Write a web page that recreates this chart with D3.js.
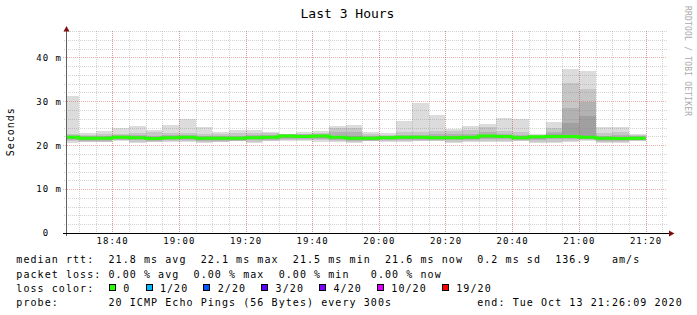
<!DOCTYPE html>
<html lang="en">
<head>
<meta charset="utf-8">
<title>Last 3 Hours</title>
<style>
  body { margin: 0; background: #fff; }
  svg text { font-family: "DejaVu Sans Mono", monospace; white-space: pre; }
</style>
</head>
<body>
<svg id="chart" width="697" height="315"></svg>
<script src="https://cdn.jsdelivr.net/npm/d3@7"></script>
<script>
  // ---- data (ms), one value per 5 minute step ----
  var startTime = "18:26:09", endTime = "21:26:09";
  var yMax = 46;

  var binEnds = ["18:30","18:35","18:40","18:45","18:50","18:55","19:00","19:05","19:10","19:15",
                 "19:20","19:25","19:30","19:35","19:40","19:45","19:50","19:55","20:00","20:05",
                 "20:10","20:15","20:20","20:25","20:30","20:35","20:40","20:45","20:50","20:55",
                 "21:00","21:05","21:10","21:15","21:20"];

  var rttMax = [31.2,22.7,23.2,24.0,24.4,23.5,24.6,26.0,24.1,22.9,23.5,23.5,23.1,22.6,22.9,23.2,24.4,24.6,23.1,22.7,
                25.6,29.5,26.9,23.7,24.4,24.8,26.3,26.0,22.5,25.3,37.4,36.9,24.1,24.1,22.6];
  var rttU1  = [22.6,22.4,22.5,22.6,22.7,22.9,22.7,22.7,22.6,22.5,22.7,22.7,22.7,22.5,22.6,22.7,23.8,23.9,22.6,22.4,
                23.0,23.0,23.3,23.2,23.4,24.1,23.2,23.1,22.3,24.0,34.2,32.9,22.8,23.1,22.4];
  var rttU2  = [22.4,22.2,22.2,22.4,22.3,22.1,22.3,22.4,22.2,22.2,22.2,22.3,22.4,22.5,22.5,22.5,23.1,23.0,22.2,22.2,
                22.4,22.4,22.5,22.5,22.6,23.0,22.6,22.4,22.2,23.0,28.5,29.8,22.2,22.3,22.2];
  var rttU3  = [22.1,21.9,21.9,22.1,22.0,21.8,22.0,22.1,21.9,21.9,21.9,22.0,22.1,22.3,22.3,22.4,22.2,22.0,21.9,22.0,
                22.1,22.2,22.0,22.0,22.2,22.4,22.3,22.0,22.1,22.6,25.0,26.6,21.9,21.9,21.9];
  var rttMed = [21.8,21.6,21.6,21.8,21.7,21.5,21.7,21.8,21.6,21.6,21.6,21.7,21.8,22.1,22.0,22.1,21.8,21.6,21.6,21.7,
                21.8,21.8,21.7,21.7,21.8,22.1,22.0,21.7,21.9,22.0,22.0,21.8,21.6,21.5,21.6];
  var rttL3  = [21.4,21.2,21.2,21.4,21.3,21.1,21.3,21.4,21.2,21.2,21.2,21.3,21.4,21.7,21.6,21.7,21.4,21.2,21.2,21.3,
                21.4,21.4,21.3,21.3,21.4,21.7,21.6,21.3,21.5,21.6,21.6,21.4,21.2,21.1,21.2];
  var rttL2  = [21.2,21.0,21.0,21.2,21.1,20.9,21.1,21.2,21.0,21.0,21.0,21.1,21.2,21.5,21.4,21.5,21.2,21.0,21.0,21.1,
                21.2,21.2,21.1,21.1,21.2,21.5,21.4,21.1,21.2,21.3,21.3,21.3,21.0,20.9,21.1];
  var rttL1  = [20.9,20.8,20.8,21.1,20.8,20.8,21.0,21.0,20.7,20.8,21.0,20.8,21.0,21.2,21.1,21.1,20.9,20.8,21.0,20.9,
                20.9,21.0,21.0,20.8,20.9,21.0,20.9,21.0,20.8,20.8,20.9,21.1,20.7,20.7,21.0];
  var rttMin = [20.6,20.7,20.7,20.95,20.6,20.7,20.8,20.8,20.4,20.7,20.9,20.6,20.9,20.95,20.9,20.8,20.7,20.6,20.9,20.8,
                20.7,20.9,20.9,20.6,20.7,20.7,20.7,20.85,20.6,20.6,20.65,21.0,20.4,20.5,21.0];

  var lossLabels = ["0", "1/20", "2/20", "3/20", "4/20", "10/20", "19/20"];
  var lossColors = ["#26ff00", "#00b8ff", "#0059ff", "#5e00ff", "#7e00ff", "#dd00ff", "#ff0000"];

  var legendRows = [
    "median rtt:  21.8 ms avg  22.1 ms max  21.5 ms min  21.6 ms now  0.2 ms sd  136.9   am/s",
    "packet loss: 0.00 % avg  0.00 % max  0.00 % min   0.00 % now",
    "loss color:",
    "probe:       20 ICMP Echo Pings (56 Bytes) every 300s            end: Tue Oct 13 21:26:09 2020"
  ];

  // ---- drawing ----
  var svg = d3.select("#chart");
  svg.append("rect").attr("width", 697).attr("height", 315).attr("fill", "#fff");

  function parseT(s) {
    var p = s.split(":").map(Number);
    return new Date(2020, 9, 13, p[0], p[1], p[2] || 0);
  }
  var t0 = parseT(startTime), t1 = parseT(endTime);

  var x = d3.scaleTime().domain([t0, t1]).range([66, 666]);
  var y = d3.scaleLinear().domain([0, yMax]).range([233, 31]);

  var bins = binEnds.map(function(s, i) {
    var end = parseT(s);
    return { i: i, start: new Date(Math.max(+t0, +end - 300000)), end: end };
  });

  // smoke, outer band first
  var bands = [
    { lo: rttMin, hi: rttMax, color: "#dcdcdc" },
    { lo: rttL1,  hi: rttU1,  color: "#c6c6c6" },
    { lo: rttL2,  hi: rttU2,  color: "#b2b2b2" },
    { lo: rttL3,  hi: rttU3,  color: "#a0a0a0" }
  ];
  var smoke = svg.append("g").attr("shape-rendering", "crispEdges");
  bands.forEach(function(b) {
    smoke.selectAll(null)
      .data(bins)
      .enter().append("rect")
      .attr("x", function(d) { return Math.round(x(d.start)); })
      .attr("width", function(d) { return Math.round(x(d.end)) - Math.round(x(d.start)); })
      .attr("y", function(d) { return y(b.hi[d.i]); })
      .attr("height", function(d) { return y(b.lo[d.i]) - y(b.hi[d.i]); })
      .attr("fill", b.color);
  });

  // grid
  var grid = svg.append("g").attr("shape-rendering", "crispEdges").attr("stroke-dasharray", "1,1");
  var minorCol = "rgba(128,128,128,0.35)", majorCol = "rgba(224,80,80,0.45)";
  var yMajor = d3.range(10, yMax, 10);
  var yMinor = d3.range(2, yMax + 0.5, 2).filter(function(v) { return v % 10 !== 0; });
  var xMinor = d3.timeMinute.every(5).range(t0, t1);
  var xMajor = d3.timeMinute.every(20).range(t0, t1);

  grid.selectAll(".hmin").data(yMinor).enter().append("line")
    .attr("x1", 64).attr("x2", 667)
    .attr("y1", function(d) { return Math.round(y(d)) + 0.5; })
    .attr("y2", function(d) { return Math.round(y(d)) + 0.5; })
    .attr("stroke", minorCol);
  grid.selectAll(".vmin").data(xMinor).enter().append("line")
    .attr("x1", function(d) { return Math.round(x(d)) + 0.5; })
    .attr("x2", function(d) { return Math.round(x(d)) + 0.5; })
    .attr("y1", 31).attr("y2", 233)
    .attr("stroke", minorCol);
  grid.selectAll(".hmaj").data(yMajor).enter().append("line")
    .attr("x1", 63).attr("x2", 667)
    .attr("y1", function(d) { return Math.round(y(d)) + 0.5; })
    .attr("y2", function(d) { return Math.round(y(d)) + 0.5; })
    .attr("stroke", majorCol);
  grid.selectAll(".vmaj").data(xMajor).enter().append("line")
    .attr("x1", function(d) { return Math.round(x(d)) + 0.5; })
    .attr("x2", function(d) { return Math.round(x(d)) + 0.5; })
    .attr("y1", 31).attr("y2", 233)
    .attr("stroke", majorCol);

  // median line, coloured by loss (all 0 loss here)
  var medPts = bins.map(function(d) { return [x(d.start), y(rttMed[d.i])]; });
  var last = bins[bins.length - 1];
  medPts.push([x(last.end), y(rttMed[last.i])]);
  svg.append("path")
    .attr("d", d3.line().curve(d3.curveStepAfter)(medPts))
    .attr("fill", "none")
    .attr("stroke", lossColors[0])
    .attr("stroke-width", 3);

  // axes
  svg.append("line").attr("x1", 66.5).attr("x2", 66.5).attr("y1", 236).attr("y2", 29)
    .attr("stroke", "#606060").attr("shape-rendering", "crispEdges");
  svg.append("line").attr("x1", 63).attr("x2", 670).attr("y1", 233.5).attr("y2", 233.5)
    .attr("stroke", "#000").attr("shape-rendering", "crispEdges");
  svg.append("path").attr("d", "M63.5,31.5L66.5,26L69.5,31.5Z").attr("fill", "#801010");
  svg.append("path").attr("d", "M669,230.5L674.5,233.5L669,236.5Z").attr("fill", "#801010");

  // y labels
  svg.selectAll(".ylab").data([0].concat(yMajor)).enter().append("text")
    .attr("x", 62)
    .attr("y", function(d) { return y(d) + 3.4; })
    .attr("text-anchor", "end")
    .style("font-size", "9px").style("letter-spacing", "1px")
    .attr("fill", "#000")
    .text(function(d) { return d === 0 ? "0  " : d + " m"; });

  // x labels
  var fmt = d3.timeFormat("%H:%M");
  svg.selectAll(".xlab").data(xMajor).enter().append("text")
    .attr("x", function(d) { return x(d) + 0.5; })
    .attr("y", 244)
    .attr("text-anchor", "middle")
    .style("font-size", "9px").style("letter-spacing", "1px")
    .text(function(d) { return fmt(d); });

  // title, unit, watermark
  svg.append("text").attr("x", 347.5).attr("y", 17.7).attr("text-anchor", "middle")
    .style("font-size", "13px").text("Last 3 Hours");
  svg.append("text").attr("transform", "translate(14.3,131.7) rotate(-90)")
    .attr("text-anchor", "middle")
    .style("font-size", "10px").style("letter-spacing", "1px")
    .text("Seconds");
  svg.append("text").attr("transform", "translate(685,6) rotate(90)")
    .style("font-size", "8px").style("letter-spacing", "0.2px")
    .attr("fill", "#aaaaaa")
    .text("RRDTOOL / TOBI OETIKER");

  // legend
  var rowY = [263.3, 277.5, 291.7, 305.9];
  svg.selectAll(".leg").data(legendRows).enter().append("text")
    .attr("x", 16.3)
    .attr("y", function(d, i) { return rowY[i]; })
    .style("font-size", "10px").style("letter-spacing", "1.07px")
    .text(function(d) { return d; });

  var bx = 109;
  lossLabels.forEach(function(lab, i) {
    svg.append("rect")
      .attr("x", bx + 0.5).attr("y", 284.5).attr("width", 6).attr("height", 6)
      .attr("fill", lossColors[i]).attr("stroke", "#000").attr("stroke-width", 1)
      .attr("shape-rendering", "crispEdges");
    svg.append("text")
      .attr("x", bx + 14.3).attr("y", rowY[2])
      .style("font-size", "10px").style("letter-spacing", "1.07px")
      .text(lab);
    bx += 29.5 + lab.length * 7.09;
  });
</script>
</body>
</html>
